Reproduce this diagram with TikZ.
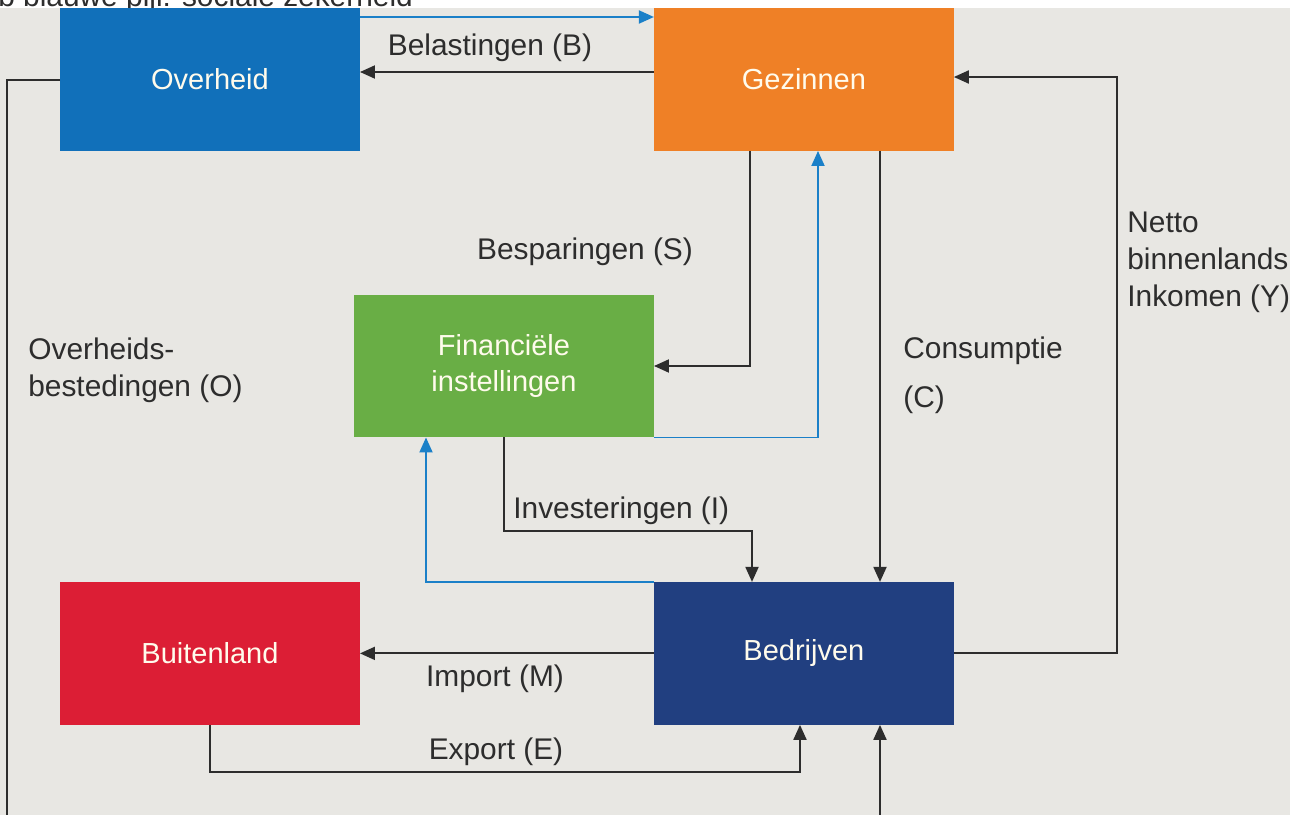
\documentclass[tikz,border=0pt]{standalone}
\usepackage{fontspec}
\setmainfont{Liberation Sans}
\usetikzlibrary{arrows.meta, positioning}
\definecolor{achtergrond}{RGB}{232,231,227}
\definecolor{overheidblauw}{RGB}{17,112,186}
\definecolor{gezinoranje}{RGB}{239,128,38}
\definecolor{financgroen}{RGB}{105,174,69}
\definecolor{buitenrood}{RGB}{220,30,53}
\definecolor{bedrijfblauw}{RGB}{33,63,128}
\definecolor{lijnblauw}{RGB}{27,128,200}
\definecolor{lijngrijs}{RGB}{45,45,45}
\definecolor{boxtekst}{RGB}{255,251,236}

\begin{document}
\begin{tikzpicture}[x=0.02cm, y=-0.02cm,
    sector/.style={inner sep=0pt, outer sep=0pt, minimum width=6cm,
      minimum height=2.86cm, text=boxtekst, align=center,
      font=\fontsize{16.5}{20}\selectfont},
    uitleg/.style={inner sep=0pt, text=lijngrijs, align=left,
      font=\fontsize{17}{21}\selectfont},
    stroom/.style={draw=lijngrijs, line width=1.1pt,
      -{Triangle[length=0.3cm, width=0.26cm]}},
    sociaal/.style={draw=lijnblauw, line width=1.1pt,
      -{Triangle[length=0.3cm, width=0.26cm]}}]
  \useasboundingbox (0,0) rectangle (1303,815);
  \clip (0,0) rectangle (1303,815);

  % kop, afgesneden
  \node (kop) [uitleg, anchor=base west] at (-2,6) {b blauwe pijl: sociale zekerheid};
  \fill[achtergrond] (0,8) rectangle (1290,815);

  % sectoren
  \node (overheid) [sector, fill=overheidblauw] at (210,79.5) {Overheid};
  \node (gezinnen) [sector, fill=gezinoranje, right=5.88cm of overheid] {Gezinnen};
  \node (financieel) [sector, fill=financgroen] at (504,366) {Financiële\\instellingen};
  \node (buitenland) [sector, fill=buitenrood, below=8.62cm of overheid] {Buitenland};
  \node (bedrijven) [sector, fill=bedrijfblauw, below=8.62cm of gezinnen] {Bedrijven};

  % teksten bij de pijlen
  \node (belasting) [uitleg] at (490,48) {Belastingen (B)};
  \node (besparing) [uitleg] at (585,252) {Besparingen (S)};
  \node (investering) [uitleg, anchor=west] at (513,511) {Investeringen (I)};
  \node (import) [uitleg] at (495,679) {Import (M)};
  \node (export) [uitleg] at (496,752) {Export (E)};
  \node (consumptie) [uitleg, anchor=west] at (903,375) {Consumptie\\[0.24cm](C)};
  \node (inkomen) [uitleg, anchor=west] at (1127,262) {Netto\\binnenlands\\Inkomen (Y)};
  \node (bestedingen) [uitleg, anchor=west] at (28,370) {Overheids-\\bestedingen (O)};

  % geldstromen
  \draw[sociaal] (overheid.east |- 0,17) -- (gezinnen.west |- 0,17);
  \draw[stroom] (gezinnen.west |- 0,72) -- (overheid.east |- 0,72);
  \draw[stroom] (overheid.west |- 0,80) -- (7,80) -- (7,850) -| (bedrijven.south -| 880,0);
  \draw[stroom] (gezinnen.south -| 750,0) |- (financieel.east |- 0,366);
  \draw[sociaal] (financieel.south east) -| (gezinnen.south -| 818,0);
  \draw[stroom] (gezinnen.south -| 880,0) -- (bedrijven.north -| 880,0);
  \draw[stroom] (bedrijven.east) -| (1117,77) -- (gezinnen.east |- 0,77);
  \draw[stroom] (financieel.south) |- (752,531) -- (bedrijven.north -| 752,0);
  \draw[sociaal] (bedrijven.north west) -| (financieel.south -| 426,0);
  \draw[stroom] (bedrijven.west) -- (buitenland.east);
  \draw[stroom] (buitenland.south) |- (800,772) -- (bedrijven.south -| 800,0);
\end{tikzpicture}
\end{document}
